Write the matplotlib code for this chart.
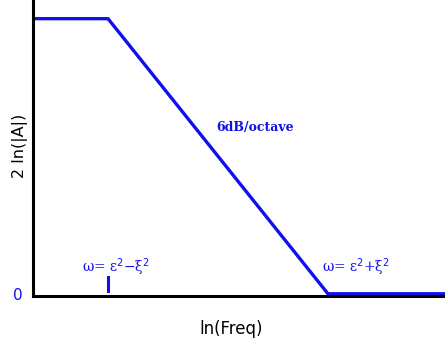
import matplotlib.pyplot as plt

# corner points of the asymptotic response (ln freq, 2 ln|A|)
freq = [0.0, 1.0, 3.93, 5.6]
gain = [3.68, 3.68, 0.0, 0.0]
tick_x = [1.0]
tick_labels = ["0"]

BLUE = "#1010ee"

fig = plt.figure(figsize=(4.45, 3.49), dpi=100)
ax = fig.add_axes([33 / 445, 53 / 349, 412 / 445, 296 / 349])

ax.plot(freq, gain, color=BLUE, linewidth=2.4, solid_capstyle="butt", clip_on=False)
ax.plot([tick_x[0], tick_x[0]], [0.04, 0.22], color=BLUE, linewidth=2.2)

ax.set_xlim(0, 5.49)
ax.set_ylim(-0.03, 3.93)
for s in ["top", "right"]:
    ax.spines[s].set_visible(False)
for s in ["left", "bottom"]:
    ax.spines[s].set_linewidth(2.2)
ax.set_xticks([])
ax.set_yticks([])

fig.text(18 / 445, 1 - 296 / 349, tick_labels[0], color=BLUE, fontsize=11,
         ha="center", va="center", family="DejaVu Sans")
fig.text(20 / 445, 1 - 146 / 349, "2 ln(|A|)", rotation=90, fontsize=11.5,
         ha="center", va="center", family="DejaVu Sans")
fig.text(231 / 445, 1 - 329 / 349, "ln(Freq)", fontsize=12,
         ha="center", va="center", family="DejaVu Sans")

ax.text(2.96, 2.23, "6dB/octave", color=BLUE, fontsize=9, fontweight="bold",
        family="DejaVu Serif", ha="center", va="center")
ax.text(0.65, 0.35, r"ω= ε$^2$−ξ$^2$", color=BLUE, fontsize=10,
        family="DejaVu Serif", ha="left", va="center")
ax.text(3.85, 0.35, r"ω= ε$^2$+ξ$^2$", color=BLUE, fontsize=10,
        family="DejaVu Serif", ha="left", va="center")

fig.savefig("out.png", dpi=100)
